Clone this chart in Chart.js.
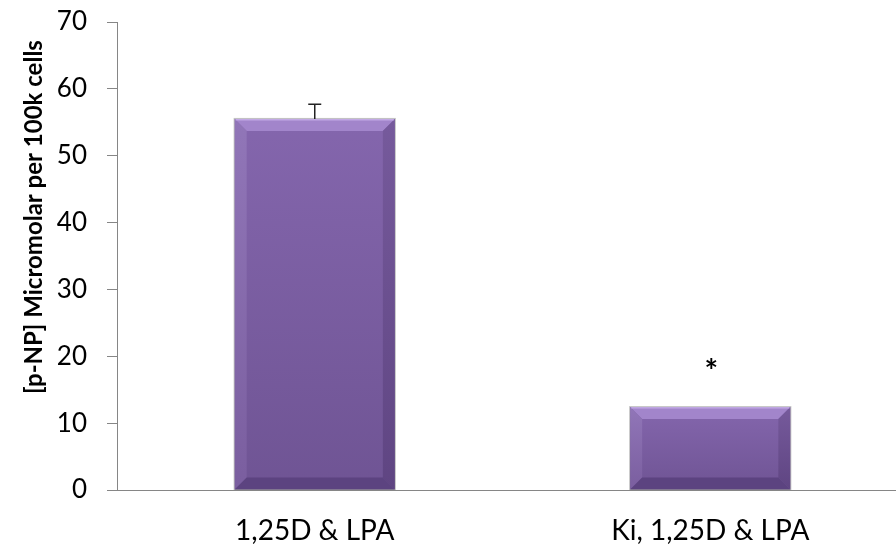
<!DOCTYPE html>
<html>
<head>
<meta charset="utf-8">
<script src="https://cdn.jsdelivr.net/npm/chart.js@4.4.0/dist/chart.umd.min.js"></script>
<style>
  html, body { margin: 0; padding: 0; background: #fff; overflow: hidden; }
  #wrap { width: 908px; height: 551px; }
</style>
</head>
<body>
<div id="wrap"><canvas id="barChart"></canvas></div>
<script>
const categories = ["1,25D & LPA", "Ki, 1,25D & LPA"];
const values = [55.5, 12.4];
const errors = [2.2, 0];
const marks = ["", "*"];
const yTicks = [0, 10, 20, 30, 40, 50, 60, 70];
const yTitle = "[p-NP] Micromolar per 100k cells";

const fontFamily = "Lato, 'Open Sans', sans-serif";
const axisColor = "#868686";

// bevelled bars, error bars, significance marks and the y title
const decorPlugin = {
    id: "decor",
    afterDatasetsDraw(chart) {
        const ctx = chart.ctx;
        const yScale = chart.scales.y;
        const meta = chart.getDatasetMeta(0);
        meta.data.forEach((bar, i) => {
            const left = bar.x - bar.width / 2;
            const right = bar.x + bar.width / 2;
            const top = bar.y;
            const bottom = bar.base;
            const b = Math.min(12, (bottom - top) / 3);

            ctx.save();
            // face
            let g = ctx.createLinearGradient(0, top, 0, bottom);
            g.addColorStop(0, "#8466ad");
            g.addColorStop(1, "#6f5494");
            ctx.fillStyle = g;
            ctx.fillRect(left, top, right - left, bottom - top);

            // top bevel
            ctx.fillStyle = "#a285cb";
            ctx.beginPath();
            ctx.moveTo(left, top); ctx.lineTo(right, top);
            ctx.lineTo(right - b, top + b); ctx.lineTo(left + b, top + b);
            ctx.closePath(); ctx.fill();
            // left bevel
            g = ctx.createLinearGradient(0, top, 0, bottom);
            g.addColorStop(0, "#9176b8");
            g.addColorStop(1, "#7a5e9f");
            ctx.fillStyle = g;
            ctx.beginPath();
            ctx.moveTo(left, top); ctx.lineTo(left + b, top + b);
            ctx.lineTo(left + b, bottom - b); ctx.lineTo(left, bottom);
            ctx.closePath(); ctx.fill();
            // right bevel
            g = ctx.createLinearGradient(0, top, 0, bottom);
            g.addColorStop(0, "#765a9c");
            g.addColorStop(1, "#5f4582");
            ctx.fillStyle = g;
            ctx.beginPath();
            ctx.moveTo(right, top); ctx.lineTo(right - b, top + b);
            ctx.lineTo(right - b, bottom - b); ctx.lineTo(right, bottom);
            ctx.closePath(); ctx.fill();
            // bottom bevel
            ctx.fillStyle = "#5c4380";
            ctx.beginPath();
            ctx.moveTo(left, bottom); ctx.lineTo(left + b, bottom - b);
            ctx.lineTo(right - b, bottom - b); ctx.lineTo(right, bottom);
            ctx.closePath(); ctx.fill();

            // highlight and outline
            ctx.strokeStyle = "#c2a9e6";
            ctx.lineWidth = 1.5;
            ctx.beginPath();
            ctx.moveTo(left + 1, top + 0.75); ctx.lineTo(right - 1, top + 0.75);
            ctx.stroke();
            ctx.strokeStyle = "rgba(120,120,120,0.45)";
            ctx.lineWidth = 1;
            ctx.strokeRect(left - 0.5, top - 0.5, right - left + 1, bottom - top + 0.5);

            // error bar
            if (errors[i] > 0) {
                const yErr = yScale.getPixelForValue(values[i] + errors[i]);
                ctx.strokeStyle = "#222";
                ctx.lineWidth = 1.5;
                ctx.beginPath();
                ctx.moveTo(bar.x, top); ctx.lineTo(bar.x, yErr);
                ctx.moveTo(bar.x - 6.5, yErr); ctx.lineTo(bar.x + 6.5, yErr);
                ctx.stroke();
            }

            // significance mark
            if (marks[i]) {
                ctx.fillStyle = "#000";
                ctx.font = "bold 32px " + fontFamily;
                ctx.textAlign = "center";
                ctx.textBaseline = "middle";
                ctx.fillText(marks[i], bar.x + 1, yScale.getPixelForValue(values[i] + errors[i]) - 34);
            }
            ctx.restore();
        });
    },
    afterDraw(chart) {
        const ctx = chart.ctx;
        const area = chart.chartArea;
        ctx.save();
        // x axis runs under the y ticks
        ctx.strokeStyle = axisColor;
        ctx.lineWidth = 1;
        ctx.beginPath();
        ctx.moveTo(area.left - 10, Math.round(area.bottom) + 0.5);
        ctx.lineTo(area.left, Math.round(area.bottom) + 0.5);
        ctx.stroke();

        ctx.translate(34, 217);
        ctx.rotate(-Math.PI / 2);
        ctx.fillStyle = "#000";
        ctx.font = "bold 24px " + fontFamily;
        ctx.textAlign = "center";
        ctx.textBaseline = "middle";
        ctx.fillText(yTitle, 0, 0);
        ctx.restore();
    }
};

const ctx = document.getElementById("barChart").getContext("2d");
const barChart = new Chart(ctx, {
    type: "bar",
    data: {
        labels: categories,
        datasets: [{
            data: values,
            backgroundColor: "rgba(0,0,0,0)",
            borderWidth: 0,
            categoryPercentage: 1.0,
            barPercentage: 0.405
        }]
    },
    options: {
        responsive: true,
        maintainAspectRatio: false,
        animation: false,
        layout: { padding: { top: 22, right: 0, bottom: 0, left: 0 } },
        plugins: {
            legend: { display: false },
            tooltip: { enabled: false }
        },
        scales: {
            x: {
                grid: { display: false, drawTicks: false },
                border: { display: true, color: axisColor, width: 1 },
                ticks: {
                    color: "#000",
                    padding: 24,
                    font: { family: fontFamily, size: 28 }
                },
                afterFit(scale) { scale.height = 61; }
            },
            y: {
                min: 0,
                max: 70,
                afterBuildTicks(scale) { scale.ticks = yTicks.map(v => ({ value: v })); },
                grid: {
                    display: true,
                    drawOnChartArea: false,
                    drawTicks: true,
                    tickLength: 10,
                    color: axisColor
                },
                border: { display: true, color: axisColor, width: 1 },
                ticks: {
                    color: "#000",
                    padding: 20,
                    font: { family: fontFamily, size: 26 }
                },
                afterFit(scale) {
                    scale.width = 117;
                    scale.paddingTop = 0;
                }
            }
        }
    },
    plugins: [decorPlugin]
});
</script>
</body>
</html>
